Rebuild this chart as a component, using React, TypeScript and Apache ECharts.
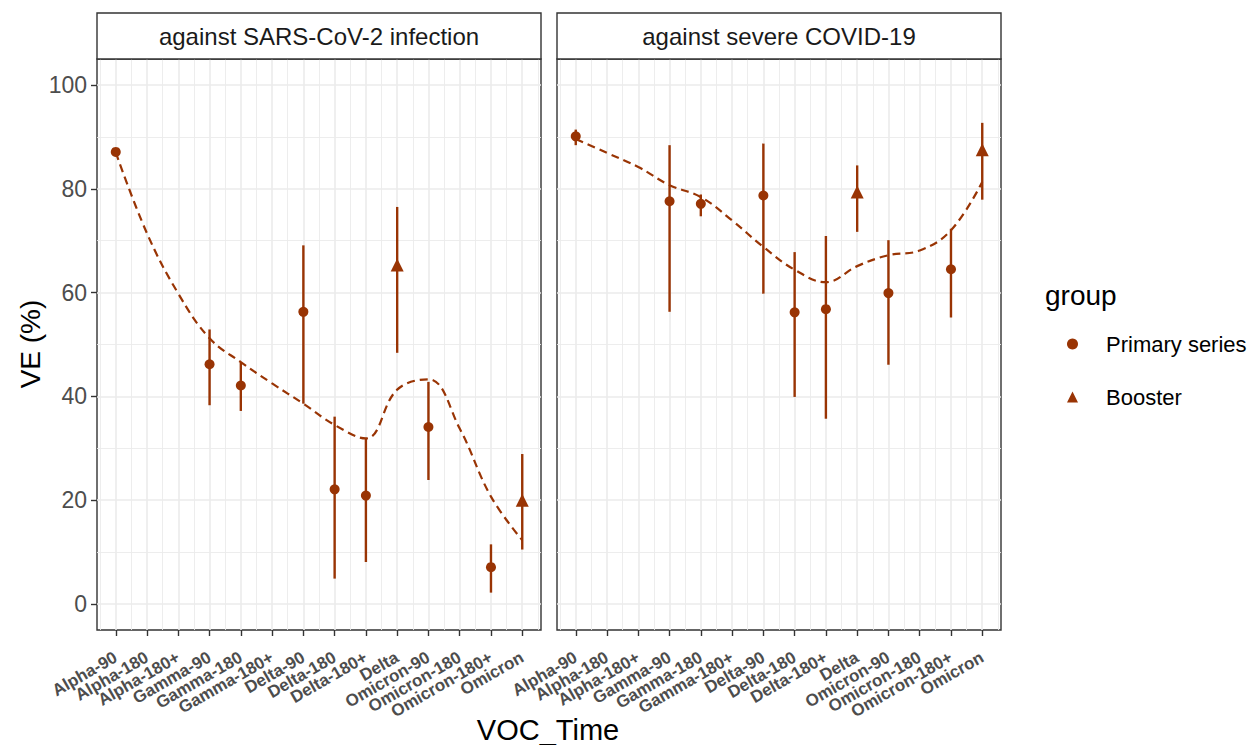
import React, { useEffect, useRef } from "react";
import * as echarts from "echarts";

const categories = [
  "Alpha-90", "Alpha-180", "Alpha-180+", "Gamma-90", "Gamma-180", "Gamma-180+",
  "Delta-90", "Delta-180", "Delta-180+", "Delta", "Omicron-90", "Omicron-180",
  "Omicron-180+", "Omicron",
];

const panelTitles = ["against SARS-CoV-2 infection", "against severe COVID-19"];

// Panel 1: against infection
const infPrimary = [87.1, null, null, 46.2, 42.1, null, 56.3, 22.1, 20.9, null, 34.1, null, 7.1, null];
const infBooster = [null, null, null, null, null, null, null, null, null, 65.3, null, null, null, 20.0];
const infLower = [86.5, null, null, 38.3, 37.2, null, 38.6, 4.9, 8.1, 48.4, 23.9, null, 2.2, 10.5];
const infUpper = [87.6, null, null, 52.9, 46.5, null, 69.1, 36.1, 32.0, 76.5, 42.8, null, 11.5, 28.9];
const infFit = [87.0, 71.4, 59.8, 51.2, 46.6, 42.5, 38.6, 34.5, 31.9, 41.3, 43.3, 33.8, 20.7, 12.3];

// Panel 2: against severe disease
const sevPrimary = [90.1, null, null, 77.6, 77.1, null, 78.7, 56.2, 56.8, null, 59.9, null, 64.5, null];
const sevBooster = [null, null, null, null, null, null, null, null, null, 79.4, null, null, null, 87.5];
const sevLower = [88.4, null, null, 56.3, 74.7, null, 59.8, 39.9, 35.7, 71.7, 46.1, null, 55.2, 77.9];
const sevUpper = [91.4, null, null, 88.4, 78.9, null, 88.7, 67.8, 70.9, 84.5, 70.1, null, 72.3, 92.7];
const sevFit = [89.6, 86.9, 84.2, 80.7, 78.4, 73.9, 68.8, 64.4, 62.0, 65.1, 67.2, 68.1, 72.0, 81.3];

const yTicks = [0, 20, 40, 60, 80, 100];
const yMinor = [10, 30, 50, 70, 90];

const COLOR = "#993404";
const FONT = "Liberation Sans, Arial, Helvetica, sans-serif";

const PANEL_LEFT = [97, 557];
const PANEL_W = 444;
const PANEL_TOP = 59;
const PANEL_H = 571;
const STRIP_TOP = 13;

// x range is [-0.6, 13.6] (ggplot discrete expansion); label axis uses 10 slots per category
const X_MIN = -0.6;
const X_MAX = 13.6;
const SLOTS = Math.round((X_MAX - X_MIN) * 10) + 1;
const labelSlots: string[] = Array.from({ length: SLOTS }, () => "");
categories.forEach((c, i) => {
  labelSlots[Math.round((i - X_MIN) * 10)] = c;
});

function buildPanel(gi: number, fit: number[], prim: (number | null)[], boost: (number | null)[], lo: (number | null)[], hi: (number | null)[]) {
  const idx = categories.map((_, i) => i);
  const gridLines: any[] = [];
  idx.forEach((i) => {
    gridLines.push({ xAxis: i, lineStyle: { color: "#ebebeb", width: 1.6, type: "solid" } });
  });
  for (let i = -1; i < categories.length; i++) {
    gridLines.push({ xAxis: i + 0.5, lineStyle: { color: "#ebebeb", width: 0.9, type: "solid" } });
  }
  yTicks.forEach((v) => gridLines.push({ yAxis: v, lineStyle: { color: "#ebebeb", width: 1.6, type: "solid" } }));
  yMinor.forEach((v) => gridLines.push({ yAxis: v, lineStyle: { color: "#ebebeb", width: 0.9, type: "solid" } }));

  const bars = idx.filter((i) => lo[i] != null && hi[i] != null).map((i) => [i, lo[i], hi[i]]);
  return [
    {
      type: "line",
      xAxisIndex: gi,
      yAxisIndex: gi,
      data: [[0, 50]],
      symbol: "none",
      lineStyle: { opacity: 0 },
      silent: true,
      z: 1,
      markLine: { silent: true, z: 1, zlevel: 0, symbol: ["none", "none"], label: { show: false }, data: gridLines, animation: false },
    },
    {
      type: "line",
      name: "fit",
      xAxisIndex: gi,
      yAxisIndex: gi,
      data: fit.map((v, i) => [i, v]),
      smooth: 0.4,
      symbol: "none",
      lineStyle: { color: COLOR, width: 2.2, type: [8, 5] },
      z: 6,
    },
    {
      type: "custom",
      xAxisIndex: gi,
      yAxisIndex: gi,
      data: bars,
      z: 7,
      renderItem: (params: any, api: any) => {
        const x = api.value(0);
        const p1 = api.coord([x, api.value(1)]);
        const p2 = api.coord([x, api.value(2)]);
        return {
          type: "line",
          shape: { x1: p1[0], y1: p1[1], x2: p2[0], y2: p2[1] },
          style: { stroke: COLOR, lineWidth: 2.4, opacity: 1 },
        };
      },
    },
    {
      type: "scatter",
      name: "Primary series",
      xAxisIndex: gi,
      yAxisIndex: gi,
      data: idx.filter((i) => prim[i] != null).map((i) => [i, prim[i]]),
      symbol: "circle",
      symbolSize: 10,
      itemStyle: { color: COLOR, opacity: 1 },
      z: 8,
    },
    {
      type: "scatter",
      name: "Booster",
      xAxisIndex: gi,
      yAxisIndex: gi,
      data: idx.filter((i) => boost[i] != null).map((i) => [i, boost[i]]),
      symbol: "triangle",
      symbolSize: 13,
      itemStyle: { color: COLOR, opacity: 1 },
      z: 8,
    },
  ];
}

export default function App() {
  const ref = useRef<HTMLDivElement>(null);
  useEffect(() => {
    if (!ref.current) return;
    const chart = echarts.init(ref.current, null, { renderer: "svg" });
    const catIdx = categories.map((_, i) => i);
    const xAxes: any[] = [0, 1].map((gi) => ({
      type: "value",
      gridIndex: gi,
      min: X_MIN,
      max: X_MAX,
      splitLine: { show: false },
      axisLine: { show: false, onZero: false },
      axisTick: { show: true, customValues: catIdx, length: 6, lineStyle: { color: "#333333", width: 1.4 } },
      axisLabel: { show: false },
    }));
    [0, 1].forEach((gi) => {
      xAxes.push({
        type: "category",
        gridIndex: gi,
        position: "bottom",
        data: labelSlots,
        boundaryGap: false,
        splitLine: { show: false },
        axisLine: { show: false, onZero: false },
        axisTick: { show: false },
        axisLabel: {
          show: true,
          interval: 0,
          rotate: 30,
          margin: 26,
          fontSize: 17,
          fontWeight: "bold",
          color: "#4d4d4d",
          fontFamily: FONT,
        },
      });
    });
    const yAxes = [0, 1].map((gi) => ({
      type: "value",
      gridIndex: gi,
      min: -5,
      max: 105,
      splitLine: { show: false },
      axisLine: { show: false, onZero: false },
      axisTick: { show: gi === 0, customValues: yTicks, length: 6, lineStyle: { color: "#333333", width: 1.4 } },
      axisLabel: {
        show: gi === 0,
        customValues: yTicks,
        fontSize: 23,
        color: "#4d4d4d",
        fontFamily: FONT,
        margin: 10,
      },
    }));
    const graphics: any[] = [];
    [0, 1].forEach((gi) => {
      graphics.push({
        type: "rect",
        shape: { x: PANEL_LEFT[gi], y: STRIP_TOP, width: PANEL_W, height: PANEL_TOP - STRIP_TOP },
        style: { fill: "#ffffff", stroke: "#333333", lineWidth: 1.4 },
        z: 10,
      });
      graphics.push({
        type: "text",
        x: PANEL_LEFT[gi] + PANEL_W / 2,
        y: (STRIP_TOP + PANEL_TOP) / 2,
        style: { text: panelTitles[gi], fontSize: 24, fill: "#1a1a1a", fontFamily: FONT, align: "center", verticalAlign: "middle" },
        z: 11,
      });
    });
    graphics.push({
      type: "text",
      x: 30,
      y: 344,
      rotation: Math.PI / 2,
      style: { text: "VE (%)", fontSize: 28, fill: "#000000", fontFamily: FONT, align: "center", verticalAlign: "middle" },
    });
    graphics.push({
      type: "text",
      x: 548,
      y: 730,
      style: { text: "VOC_Time", fontSize: 29, fill: "#000000", fontFamily: FONT, align: "center", verticalAlign: "middle" },
    });
    graphics.push({
      type: "text",
      x: 1045,
      y: 295,
      style: { text: "group", fontSize: 28, fill: "#000000", fontFamily: FONT, align: "left", verticalAlign: "middle" },
    });

    chart.setOption({
      animation: false,
      backgroundColor: "#ffffff",
      textStyle: { fontFamily: FONT },
      grid: [0, 1].map((gi) => ({
        left: PANEL_LEFT[gi],
        top: PANEL_TOP,
        width: PANEL_W,
        height: PANEL_H,
        show: true,
        backgroundColor: "#ffffff",
        borderColor: "#333333",
        borderWidth: 1.4,
      })),
      xAxis: xAxes,
      yAxis: yAxes,
      legend: {
        orient: "vertical",
        left: 1062,
        top: 328,
        itemWidth: 11,
        itemHeight: 11,
        itemGap: 31,
        selectedMode: false,
        data: [
          { name: "Primary series", icon: "circle" },
          { name: "Booster", icon: "triangle" },
        ],
        textStyle: { fontSize: 22, color: "#000000", fontFamily: FONT, padding: [0, 0, 0, 23] },
      },
      graphic: graphics,
      series: [
        ...buildPanel(0, infFit, infPrimary, infBooster, infLower, infUpper),
        ...buildPanel(1, sevFit, sevPrimary, sevBooster, sevLower, sevUpper),
      ],
    });
    return () => chart.dispose();
  }, []);
  return <div ref={ref} style={{ position: "fixed", left: 0, top: 0, width: 1257, height: 745 }} />;
}
